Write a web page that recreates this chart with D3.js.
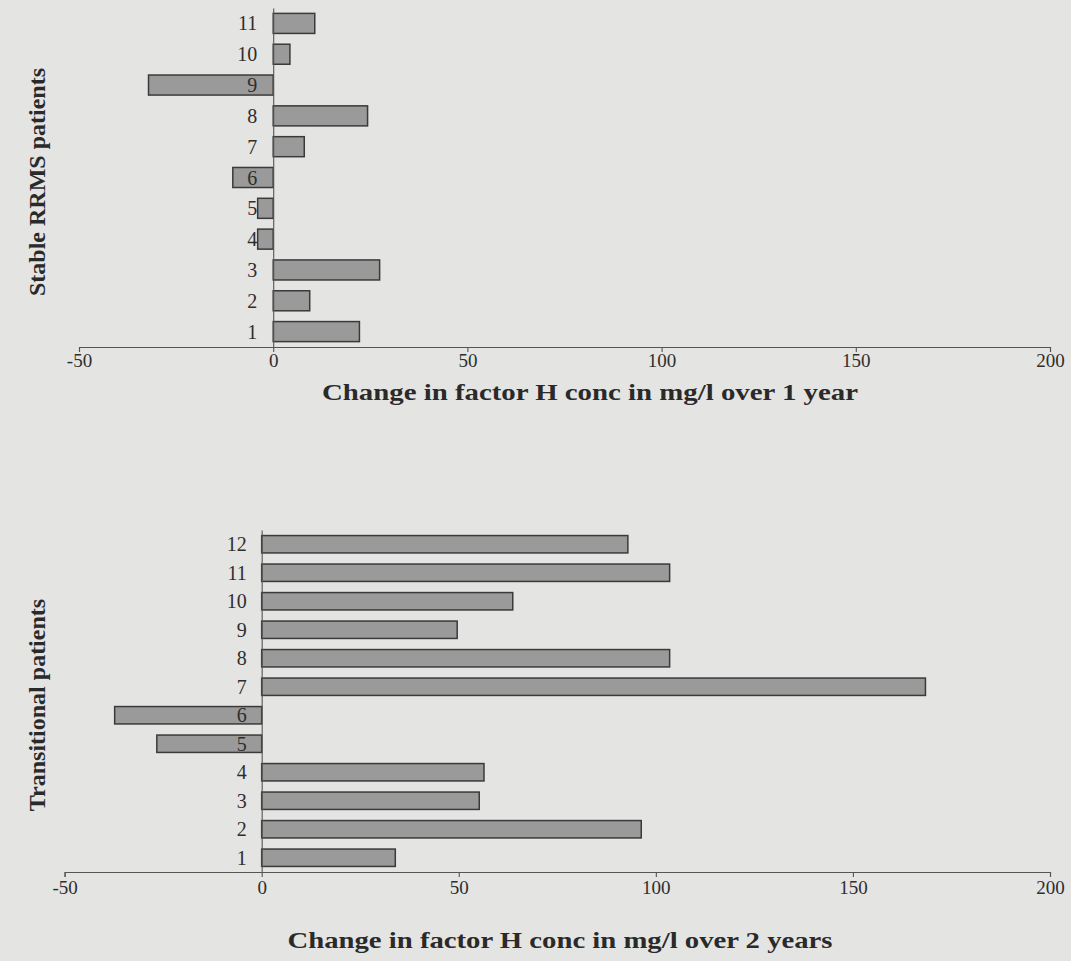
<!DOCTYPE html>
<html>
<head>
<meta charset="utf-8">
<script src="https://cdn.jsdelivr.net/npm/d3@7"></script>
<style>
  html, body { margin: 0; padding: 0; background: #e4e4e2; }
  svg { display: block; }
  .tick text { font-family: "Liberation Serif", "DejaVu Serif", serif; fill: #2e2e2e; }
</style>
</head>
<body>
<svg id="chart" width="1071" height="961"></svg>
<script>
// Change in factor H concentration per patient (mg/l)
const stablePatients = ["1","2","3","4","5","6","7","8","9","10","11"];
const stableChange1yr = [22.2, 9.4, 27.4, -4.0, -4.0, -10.4, 8.0, 24.3, -32.1, 4.3, 10.7];

const transitionalPatients = ["1","2","3","4","5","6","7","8","9","10","11","12"];
const transitionalChange2yr = [33.9, 96.3, 55.2, 56.4, -26.6, -37.3, 168.4, 103.5, 49.6, 63.7, 103.5, 92.9];

const xTickValues = [-50, 0, 50, 100, 150, 200];

const svg = d3.select("#chart");

function drawPanel(opts) {
  const g = svg.append("g");

  const x = d3.scaleLinear().domain([-50, 200]).range(opts.xRange);
  const y = d3.scaleBand()
    .domain(opts.categories)
    .range(opts.yRange)
    .paddingInner(opts.pad)
    .paddingOuter(opts.pad / 2);

  const rows = opts.categories.map((c, i) => ({ c, v: opts.values[i] }));

  // bars
  g.selectAll("rect.bar")
    .data(rows)
    .join("rect")
    .attr("class", "bar")
    .attr("x", d => x(Math.min(0, d.v)))
    .attr("width", d => Math.abs(x(d.v) - x(0)))
    .attr("y", d => y(d.c))
    .attr("height", y.bandwidth())
    .attr("fill", "#9a9a9a")
    .attr("stroke", "#3a3a3a")
    .attr("stroke-width", 1.5);

  // horizontal value axis
  const xAxis = g.append("g")
    .attr("transform", `translate(0,${opts.yRange[0]})`)
    .call(d3.axisBottom(x).tickValues(xTickValues).tickSize(5).tickSizeOuter(5)
      .tickPadding(opts.tickPad).tickFormat(d => String(d)));
  xAxis.select(".domain").attr("stroke", "#555").attr("stroke-width", 1.1);
  xAxis.selectAll(".tick line").attr("stroke", "#555").attr("stroke-width", 1.1);
  xAxis.selectAll(".tick text").attr("font-size", 19);

  // category axis at zero
  const yAxis = g.append("g")
    .attr("transform", `translate(${x(0)},0)`)
    .call(d3.axisLeft(y).tickSize(0).tickSizeOuter(0).tickPadding(opts.catPad));
  yAxis.select(".domain").attr("stroke", "#555").attr("stroke-width", 1.1);
  yAxis.selectAll(".tick text").attr("font-size", 20).attr("dy", "0.35em");

  // axis titles
  g.append("text")
    .attr("x", opts.xTitlePos[0])
    .attr("y", opts.xTitlePos[1])
    .attr("text-anchor", "middle")
    .attr("font-family", "Liberation Serif, serif")
    .attr("font-weight", "bold")
    .attr("font-size", 24)
    .attr("textLength", opts.xTitleWidth)
    .attr("lengthAdjust", "spacingAndGlyphs")
    .attr("fill", "#2a2a2a")
    .text(opts.xTitle);

  g.append("text")
    .attr("transform", `translate(${opts.yTitlePos[0]},${opts.yTitlePos[1]}) rotate(-90)`)
    .attr("text-anchor", "middle")
    .attr("font-family", "Liberation Serif, serif")
    .attr("font-weight", "bold")
    .attr("font-size", 24)
    .attr("fill", "#2a2a2a")
    .text(opts.yTitle);
}

drawPanel({
  categories: stablePatients,
  values: stableChange1yr,
  xRange: [79, 1050],
  yRange: [347, 8],
  pad: 0.35,
  tickPad: 2,
  catPad: 16,
  xTitle: "Change in factor H conc in mg/l over 1 year",
  xTitleWidth: 536,
  xTitlePos: [590, 400],
  yTitle: "Stable RRMS patients",
  yTitlePos: [45, 182]
});

drawPanel({
  categories: transitionalPatients,
  values: transitionalChange2yr,
  xRange: [64.6, 1050],
  yRange: [872, 530],
  pad: 0.39,
  tickPad: 4,
  catPad: 15,
  xTitle: "Change in factor H conc in mg/l over 2 years",
  xTitleWidth: 545,
  xTitlePos: [560, 948],
  yTitle: "Transitional patients",
  yTitlePos: [45, 705]
});
</script>
</body>
</html>
